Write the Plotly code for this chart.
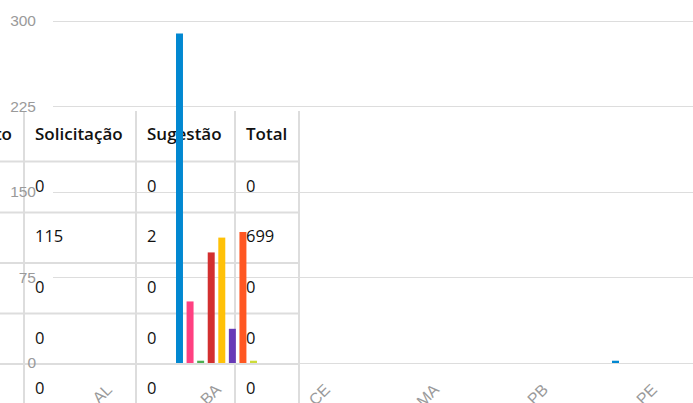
import plotly.graph_objects as go

# ---------------- data ----------------
states = ["AL", "BA", "CE", "MA", "PB", "PE"]
series_names = ["Reclamação", "Denúncia", "Elogio", "Informação", "Consulta",
                "Agradecimento", "Solicitação", "Sugestão"]
series_colors = ["#0288D1", "#FF4081", "#4CAF50", "#D32F2F", "#FFC107",
                 "#673AB7", "#FF5722", "#CDDC39"]
reclamacao = [0, 289, 0, 0, 0, 2]
denuncia = [0, 54, 0, 0, 0, 0]
elogio = [0, 2, 0, 0, 0, 0]
informacao = [0, 97, 0, 0, 0, 0]
consulta = [0, 110, 0, 0, 0, 0]
agradecimento = [0, 30, 0, 0, 0, 0]
solicitacao = [0, 115, 0, 0, 0, 0]
sugestao = [0, 2, 0, 0, 0, 0]
series_values = [reclamacao, denuncia, elogio, informacao, consulta,
                 agradecimento, solicitacao, sugestao]
y_ticks = [0, 75, 150, 225, 300]

totals = [sum(s[i] for s in series_values) for i in range(len(states))]

W, H = 693, 403          # design (reference) pixel grid
FIG_H = 411              # browser viewport height actually captured

fig = go.Figure()

# ---------------- table layer (subplot xy, design pixel coordinates) ----------------
col_lines = [24, 136, 235, 299]
row_lines = [161.5, 212.5, 263, 313.5, 364]
table_top = 111
header_y = 136
row_h = 50.7
first_row_y = 187.5
line_color = "#dddddd"

hx, hy, ht, hpos = [], [], [], []
hx.append(12); hy.append(header_y); ht.append("Agradecimento"); hpos.append("middle left")
table_cols = [("Solicitação", solicitacao), ("Sugestão", sugestao), ("Total", totals)]
for ci, (name, _) in enumerate(table_cols):
    hx.append(col_lines[ci] + 11); hy.append(header_y); ht.append(name); hpos.append("middle right")

fig.add_trace(go.Scatter(
    x=hx, y=hy, text=ht, mode="text", textposition=hpos,
    textfont=dict(family="Open Sans", size=17, color="#111111", weight=600),
    hoverinfo="skip", showlegend=False, xaxis="x", yaxis="y", cliponaxis=True))

bx, by, bt = [], [], []
for ri in range(len(states)):
    for ci, (name, vals) in enumerate(table_cols):
        bx.append(col_lines[ci] + 11)
        by.append(first_row_y + ri * row_h)
        bt.append(str(vals[ri]))
fig.add_trace(go.Scatter(
    x=bx, y=by, text=bt, mode="text", textposition="middle right",
    textfont=dict(family="Open Sans", size=16.5, color="#111111"),
    hoverinfo="skip", showlegend=False, xaxis="x", yaxis="y", cliponaxis=True))

shapes = []
for cx in col_lines:
    shapes.append(dict(type="line", xref="x", yref="y", layer="below",
                       x0=cx, x1=cx, y0=table_top, y1=H + 10,
                       line=dict(color=line_color, width=2)))
for ry in row_lines:
    shapes.append(dict(type="line", xref="x", yref="y", layer="below",
                       x0=-5, x1=col_lines[-1], y0=ry, y1=ry,
                       line=dict(color=line_color, width=2)))

# ---------------- bar chart (subplot x2y2) ----------------
for name, vals, col in zip(series_names, series_values, series_colors):
    fig.add_trace(go.Bar(x=states, y=vals, name=name, marker_color=col,
                         marker_line_width=0, xaxis="x2", yaxis="y2",
                         showlegend=False))

plot_left = 53
plot_bottom = 363
cat_px = 109
px_per_unit = (363 - 21) / 300

fig.update_layout(
    width=W, height=FIG_H,
    margin=dict(l=0, r=0, t=0, b=0),
    paper_bgcolor="white",
    plot_bgcolor="rgba(0,0,0,0)",
    barmode="group",
    bargap=0.224,
    bargroupgap=0.34,
    showlegend=False,
    shapes=shapes,
    xaxis=dict(domain=[0, 1], range=[0, W], visible=False, fixedrange=True),
    yaxis=dict(domain=[0, 1], range=[H, 0], visible=False, fixedrange=True),
    xaxis2=dict(domain=[plot_left / W, 1], anchor="y2", type="category",
                categoryorder="array", categoryarray=states,
                range=[-0.5, -0.5 + (W - plot_left) / cat_px],
                showgrid=False, zeroline=False, showline=False, ticks="",
                tickangle=-45, ticklabelstandoff=13,
                tickfont=dict(family="Liberation Sans", size=16, color="#9a9a9a")),
    yaxis2=dict(domain=[(H - plot_bottom) / H, 1], anchor="x2",
                range=[0, plot_bottom / px_per_unit],
                tickvals=y_ticks, showgrid=True, gridcolor="#dddddd", gridwidth=1,
                zeroline=True, zerolinecolor="#dddddd", zerolinewidth=1,
                showline=False, ticks="", ticklabelstandoff=16,
                tickfont=dict(family="Liberation Sans", size=15.5, color="#9a9a9a")),
)

fig.write_html(
    "out.html",
    config={"displayModeBar": False},
    post_script="document.body.style.margin='0px';document.body.style.overflow='hidden';",
)
